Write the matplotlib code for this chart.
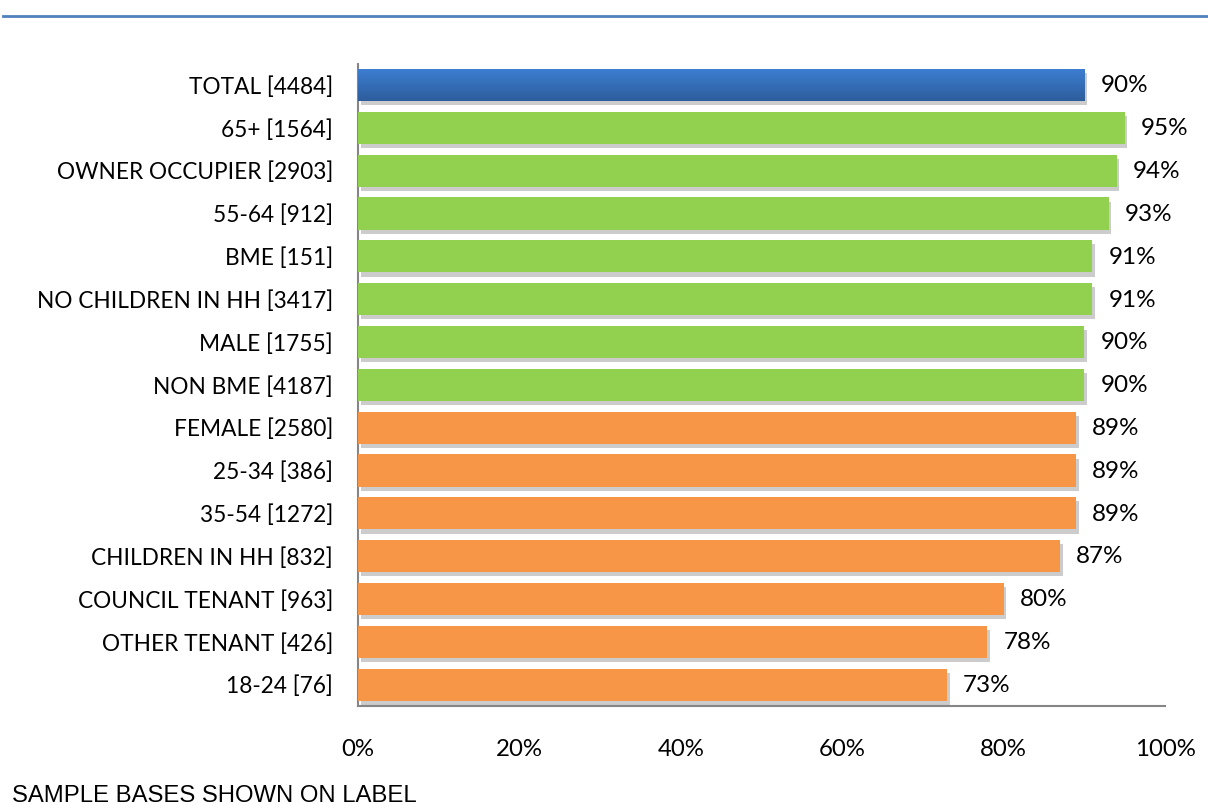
import matplotlib
matplotlib.use("Agg")
import matplotlib.pyplot as plt
import matplotlib.patheffects as pe
import numpy as np
from matplotlib.colors import LinearSegmentedColormap

categories = ["TOTAL [4484]", "65+ [1564]", "OWNER OCCUPIER [2903]", "55-64 [912]",
              "BME [151]", "NO CHILDREN IN HH [3417]", "MALE [1755]", "NON BME [4187]",
              "FEMALE [2580]", "25-34 [386]", "35-54 [1272]", "CHILDREN IN HH [832]",
              "COUNCIL TENANT [963]", "OTHER TENANT [426]", "18-24 [76]"]
values = [90, 95, 94, 93, 91, 91, 90, 90, 89, 89, 89, 87, 80, 78, 73]
groups = ["total"] + ["above"] * 7 + ["below"] * 7
colors = {"total": "#3A78C6", "above": "#92D050", "below": "#F79646"}
xticks = [0, 20, 40, 60, 80, 100]
xticklabels = ["0%", "20%", "40%", "60%", "80%", "100%"]
footnote = "SAMPLE BASES SHOWN ON LABEL"

FONT = "Lato"

fig = plt.figure(figsize=(12.08, 8.05), dpi=100)
ax = fig.add_axes([358/1208, 1 - 706/805, (1165-358)/1208, (706-63.6)/805])

y = np.arange(len(categories))
shadow = [pe.SimplePatchShadow(offset=(2, -3), shadow_rgbFace="#000000", alpha=0.2), pe.Normal()]
bars = ax.barh(y, values, height=0.75, color=[colors[g] for g in groups],
               edgecolor="none", zorder=3, path_effects=shadow)

# gradient on TOTAL bar (lighter on top, darker at bottom)
b = bars[0]
grad = np.linspace(0, 1, 100).reshape(-1, 1)
cmap = LinearSegmentedColormap.from_list("g", ["#3D7FD3", "#2D5D9C"])
x0, y0 = b.get_x(), b.get_y()
im = ax.imshow(grad, cmap=cmap, aspect="auto",
               extent=[x0, x0 + b.get_width(), y0, y0 + b.get_height()],
               origin="lower", zorder=4)
im.set_clip_path(b)

for yi, v in zip(y, values):
    ax.text(v + 2.0, yi + 0.02, f"{v}%", va="center", ha="left", fontsize=17.5,
            family=FONT, color="#000000")

ax.set_xlim(0, 100)
ax.set_ylim(len(categories) - 0.5, -0.5)
ax.set_yticks(y)
ax.set_yticklabels(categories, family=FONT, fontsize=16.3)
ax.set_xticks(xticks)
ax.set_xticklabels(xticklabels, family=FONT, fontsize=17.3)
ax.tick_params(axis="both", length=0)
ax.tick_params(axis="y", pad=18)
ax.tick_params(axis="x", pad=24)
for s in ["top", "right"]:
    ax.spines[s].set_visible(False)
for s in ["left", "bottom"]:
    ax.spines[s].set_color("#868686")
    ax.spines[s].set_linewidth(1.5)

fig.add_artist(plt.Line2D([3/1208, 1], [1 - 16.5/805] * 2, color="#4F81BD",
                          linewidth=2, transform=fig.transFigure))
fig.text(12/1208, 1 - 802/805, footnote, family="Liberation Sans", fontsize=17.2,
         ha="left", va="baseline")

fig.savefig("out.png", dpi=100)
